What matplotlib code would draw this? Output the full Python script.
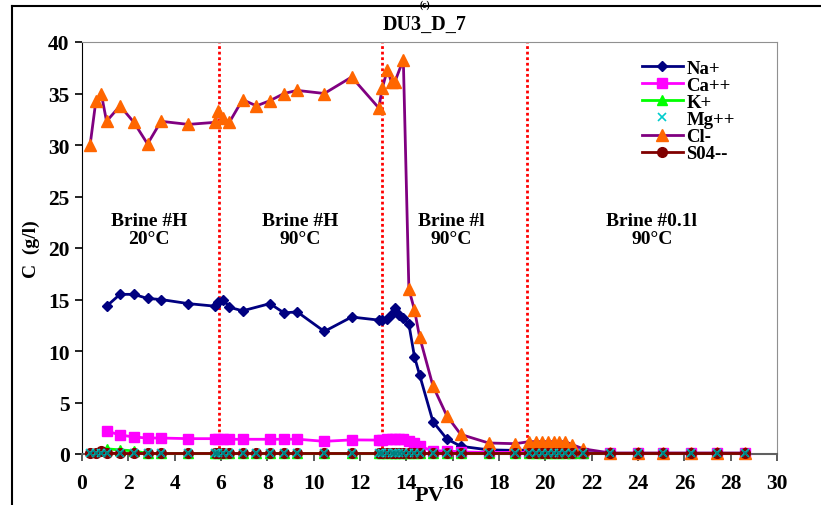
import numpy as np
import matplotlib
matplotlib.use("Agg")
import matplotlib.pyplot as plt
from matplotlib.lines import Line2D

nan = np.nan
pv = [0.35, 0.6, 0.83, 1.06, 1.64, 2.24, 2.83, 3.41, 4.59, 5.74, 5.88, 6.1, 6.36, 6.93, 7.53,
      8.11, 8.72, 9.29, 10.46, 11.64, 12.81, 12.96, 13.18, 13.36, 13.5, 13.68, 13.87, 14.11,
      14.35, 14.57, 15.15, 15.75, 16.35, 17.55, 18.7, 19.3, 19.58, 19.86, 20.12, 20.36, 20.6,
      20.86, 21.17, 21.64, 22.8, 24.0, 25.1, 26.3, 27.4, 28.6]

na = [nan, nan, nan, 14.35, 15.5, 15.5, 15.1, 15.0, 14.6, 14.35, 14.8, 15.0, 14.25, 13.9, nan,
      14.6, 13.7, 13.8, 11.9, 13.3, 13.0, 13.05, 13.1, 13.6, 14.2, 13.5, 13.2, 12.6,
      9.46, 7.7, 3.14, 1.46, 0.75, 0.4, 0.35, 0.4, 0.4, 0.4, 0.4, 0.4, 0.4,
      0.4, 0.25, 0.15, 0.05, 0.05, 0.05, 0.05, 0.05, 0.05]

ca = [nan, nan, nan, 2.23, 1.85, 1.65, 1.55, 1.55, 1.49, 1.49, 1.5, 1.5, 1.43, 1.43, nan,
      1.43, 1.43, 1.44, 1.23, 1.37, 1.35, 1.4, 1.45, 1.5, 1.5, 1.5, 1.45, 1.3,
      1.05, 0.75, 0.3, 0.3, 0.2, 0.15, 0.15, 0.15, 0.15, 0.15, 0.15, 0.15, 0.15,
      0.15, 0.1, 0.1, 0.05, 0.05, 0.05, 0.05, 0.05, 0.05]

k = [nan, nan, nan, 0.5, 0.4, 0.3, 0.05, 0.05, 0.05, 0.05, 0.05, 0.05, 0.05, 0.05, 0.05,
     0.05, 0.05, 0.05, 0.05, 0.05, 0.05, 0.05, 0.05, 0.05, 0.05, 0.05, 0.05, 0.05,
     0.05, 0.05, 0.05, 0.05, 0.05, 0.05, 0.05, 0.05, 0.05, 0.05, 0.05, 0.05, 0.05,
     0.05, 0.05, 0.05, 0.05, 0.05, 0.05, 0.05, 0.05, 0.05]

mg = [0.05] * len(pv)

cl = [30.0, 34.3, 35.0, 32.3, 33.8, 32.2, 30.1, 32.3, 32.0, 32.2, 33.3, 32.6, 32.2, 34.4, 33.8,
      34.3, 35.0, 35.3, 35.0, 36.6, 33.6, 35.5, 37.3, 36.1, 36.1, nan, 38.3, 16.0,
      14.0, 11.4, 6.6, 3.7, 1.9, 1.07, 1.0, 1.2, 1.2, 1.2, 1.2, 1.2, 1.2,
      1.2, 0.9, 0.5, 0.1, 0.1, 0.1, 0.1, 0.1, 0.1]

so4 = [0.05, 0.1, 0.25, 0.1, 0.05, 0.05, 0.05, 0.05, 0.05, 0.05, 0.05, 0.05, 0.05, 0.05, 0.05,
       0.05, 0.05, 0.05, 0.05, 0.05, 0.05, 0.05, 0.05, 0.05, 0.05, 0.05, 0.05, 0.05,
       0.05, 0.05, 0.05, 0.05, 0.05, 0.05, 0.05, 0.05, 0.05, 0.05, 0.05, 0.05, 0.05,
       0.05, 0.05, 0.05, 0.05, 0.05, 0.05, 0.05, 0.05, 0.05]

boundaries = [5.9, 12.95, 19.2]
brine_labels = ["Brine #H\n20°C", "Brine #H\n90°C", "Brine #l\n90°C", "Brine #0.1l\n90°C"]
brine_x = [2.9, 9.4, 15.95, 24.6]

plt.rcParams['font.family'] = ['Liberation Serif', 'DejaVu Serif']
plt.rcParams['font.weight'] = 'bold'

fig = plt.figure(figsize=(8.21, 5.06), dpi=100)
ax = fig.add_axes([82/821, 1-455/506, (777-82)/821, (455-43)/506])


def draw(y, color, mk, mfc, ms, label, lc=None, ls='-'):
    x = np.array(pv)
    yy = np.array(y, dtype=float)
    m = ~np.isnan(yy)
    ax.plot(x[m], yy[m], color=lc or color, linestyle=ls, linewidth=2, marker=mk,
            markerfacecolor=mfc, markeredgecolor=mfc, markersize=ms, label=label,
            clip_on=False, zorder=3)


draw(na, '#000080', 'D', '#000080', 5.5, 'Na+')
draw(ca, '#FF00FF', 's', '#FF00FF', 7, 'Ca++')
draw(k, '#00FF00', '^', '#00FF00', 6.5, 'K+')
ax.plot(pv, mg, linestyle='none', marker='x', color='#00CCCC', markersize=6, mew=1.2,
        label='Mg++', zorder=5, clip_on=False)
draw(cl, '#800080', '^', '#FF6600', 8, 'Cl-')
draw(so4, '#800000', 'o', '#800000', 7, 'S04--')
ax.plot(pv, mg, linestyle='none', marker='x', color='#008080', markersize=5, mew=1.0,
        zorder=6, clip_on=False)

for b in boundaries:
    ax.axvline(b, color='red', linestyle=(0, (1, 1)), linewidth=2, zorder=2)

for bx, lab in zip(brine_x, brine_labels):
    ax.text(bx, 23.5, lab, ha='center', va='top', fontsize=14, fontweight='bold',
            linespacing=1.05)

ax.set_xlim(0, 30)
ax.set_ylim(0, 40)
ax.set_xticks(np.arange(0, 31, 2))
ax.set_yticks(np.arange(0, 41, 5))
ax.tick_params(axis='both', labelsize=15.5, length=5, width=1.2, direction='out')
ax.tick_params(axis='x', pad=9, colors='#404040', labelcolor='black')
ax.tick_params(axis='y', pad=4)
for lab in ax.get_xticklabels() + ax.get_yticklabels():
    lab.set_fontweight('bold')
ax.spines['top'].set_color('#909090')
ax.spines['right'].set_color('#909090')
ax.spines['left'].set_color('black')
ax.spines['bottom'].set_color('#606060')
ax.spines['bottom'].set_linewidth(1.5)

ax.set_xlabel('PV', fontsize=16, fontweight='bold', labelpad=-6)
ax.set_ylabel('C  (g/l)', fontsize=14, fontweight='bold', labelpad=6)

fig.text(425/821, 1-25/506, 'DU3_D_7', ha='center', va='center', fontsize=14.5, fontweight='bold')
fig.text(425/821, 1.0, '(c)', ha='center', va='top', fontsize=7, fontweight='bold')

leg = ax.legend(loc='upper left', frameon=False, prop={'size': 13.5, 'weight': 'bold'},
                handlelength=2.2, handletextpad=0.2, labelspacing=0.0, borderaxespad=0)
leg.set_bbox_to_anchor((634/821, 1-53/506), transform=fig.transFigure)

fig.add_artist(Line2D([12/821, 12/821], [0, 1-7/506], transform=fig.transFigure, color='black', lw=1.5))
fig.add_artist(Line2D([12/821, 1], [1-7/506, 1-7/506], transform=fig.transFigure, color='black', lw=1.5))

fig.savefig('out.png', dpi=100)
